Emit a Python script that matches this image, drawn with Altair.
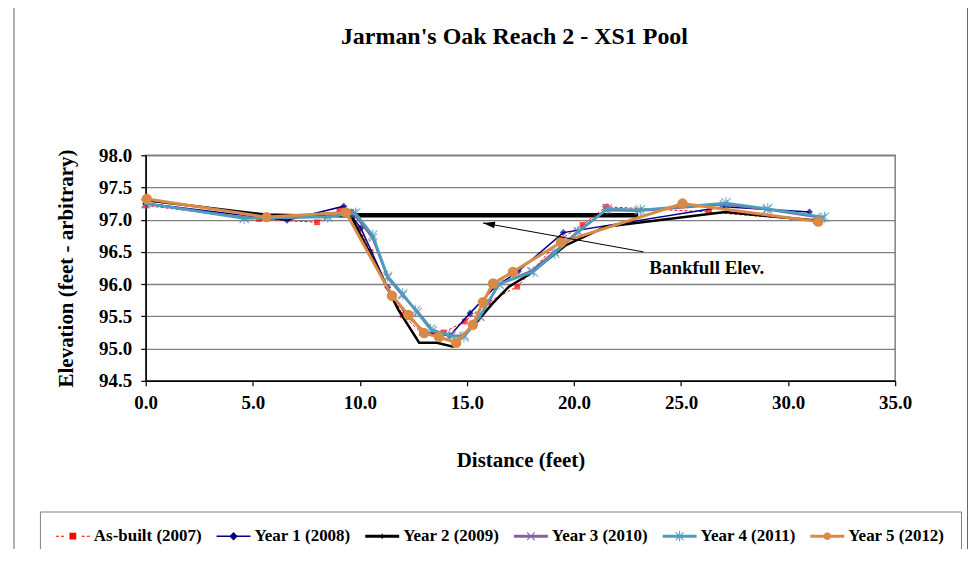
import math
import altair as alt
import pandas as pd

# ---------------- data ----------------
SERIES = ["As-built (2007)", "Year 1 (2008)", "Year 2 (2009)",
          "Year 3 (2010)", "Year 4 (2011)", "Year 5 (2012)"]
COLORS = ["#FF0000", "#000080", "#000000", "#8064A2", "#4A9FC0", "#DA8A47"]

asbuilt_x = [0.0, 5.3, 8.0, 9.05, 9.6, 10.5, 12.0, 12.9, 13.9, 14.9, 16.0, 17.35, 19.4, 20.4, 21.5, 26.3, 31.3]
asbuilt_y = [97.22, 97.01, 96.96, 97.15, 97.12, 96.50, 95.52, 95.24, 95.25, 95.42, 95.72, 95.96, 96.70, 96.92, 97.20, 97.12, 96.98]

year1_x = [0.0, 6.6, 9.25, 10.05, 11.3, 12.2, 13.1, 14.2, 15.15, 16.3, 17.4, 19.5, 27.0, 31.0]
year1_y = [97.25, 96.99, 97.21, 96.87, 95.95, 95.50, 95.25, 95.20, 95.55, 95.95, 96.20, 96.80, 97.20, 97.12]

year2_x = [0.0, 5.6, 9.6, 11.8, 12.77, 13.6, 14.35, 15.4, 16.2, 16.96, 17.9, 19.6, 21.47, 27.06, 31.2]
year2_y = [97.30, 97.08, 97.05, 95.60, 95.09, 95.09, 95.03, 95.39, 95.70, 95.96, 96.15, 96.60, 96.89, 97.12, 96.99]

year3_x = [0.0, 4.6, 8.5, 9.7, 10.6, 11.3, 12.0, 12.7, 13.4, 14.3, 14.9, 15.6, 16.5, 18.0, 19.1, 20.2, 21.5, 23.0, 27.0, 29.0, 31.6]
year3_y = [97.25, 97.03, 97.05, 97.10, 96.72, 96.10, 95.83, 95.57, 95.28, 95.20, 95.20, 95.50, 96.00, 96.20, 96.50, 96.82, 97.15, 97.14, 97.24, 97.16, 97.03]

year4_x = [0.0, 4.6, 8.5, 9.8, 10.6, 11.3, 12.0, 12.6, 13.3, 14.2, 14.86, 15.6, 16.5, 18.1, 19.1, 20.2, 21.55, 23.1, 27.1, 29.05, 31.7]
year4_y = [97.25, 97.02, 97.04, 97.10, 96.76, 96.12, 95.85, 95.59, 95.30, 95.20, 95.18, 95.50, 96.00, 96.19, 96.48, 96.81, 97.17, 97.15, 97.26, 97.17, 97.04]

year5_x = [0.05, 5.65, 9.35, 11.5, 12.27, 13.0, 13.7, 14.5, 15.28, 15.75, 16.22, 17.15, 19.4, 25.07, 31.41]
year5_y = [97.32, 97.04, 97.11, 95.82, 95.52, 95.24, 95.18, 95.09, 95.37, 95.72, 96.01, 96.19, 96.65, 97.25, 96.97]

bankfull_x = [9.5, 23.0]
bankfull_elev = [97.07]
arrow_x = [23.25, 15.75]
arrow_y = [96.50, 96.95]
label_pos = [26.2, 96.16]
label_text = "Bankfull Elev."
title_text = "Jarman's Oak Reach 2 - XS1 Pool"

x_ticks = [0, 5, 10, 15, 20, 25, 30, 35]
y_ticks = [94.5, 95.0, 95.5, 96.0, 96.5, 97.0, 97.5, 98.0]

# ---------------- layout ----------------
W, H = 751, 226
FONT = "Liberation Serif"
XDOM = [0, 35]
YDOM = [94.5, 98.0]

rows = []
for name, xs, ys in zip(SERIES,
                        [asbuilt_x, year1_x, year2_x, year3_x, year4_x, year5_x],
                        [asbuilt_y, year1_y, year2_y, year3_y, year4_y, year5_y]):
    for i, (xv, yv) in enumerate(zip(xs, ys)):
        rows.append({"series": name, "idx": i, "x": xv, "elev": yv})
df = pd.DataFrame(rows)

x_axis = alt.Axis(values=x_ticks, format=".1f", grid=False, tickSize=5, labelPadding=8,
                  labelFlush=False, title="Distance (feet)", titlePadding=37)
y_axis = alt.Axis(values=y_ticks, format=".1f", grid=True, tickSize=5, labelPadding=9,
                  labelFlush=False, title="Elevation (feet - arbitrary)", titlePadding=22)


def X(field):
    return alt.X(f"{field}:Q", scale=alt.Scale(domain=XDOM, nice=False, zero=False), axis=x_axis)


def Y(field):
    return alt.Y(f"{field}:Q", scale=alt.Scale(domain=YDOM, nice=False, zero=False), axis=y_axis)


# ---- symbol paths ----
def poly(pts):
    n = len(pts)
    a = sum(pts[i][0] * pts[(i + 1) % n][1] - pts[(i + 1) % n][0] * pts[i][1] for i in range(n))
    if a < 0:
        pts = pts[::-1]
    return "M" + "L".join(f"{px:.3f},{py:.3f}" for px, py in pts) + "Z"


def rect(x0, x1, h):
    return poly([(x0, -h), (x1, -h), (x1, h), (x0, h)])


def seg(x0, y0, x1, y1, w):
    dx, dy = x1 - x0, y1 - y0
    L = math.hypot(dx, dy)
    nx, ny = -dy / L * w, dx / L * w
    return poly([(x0 + nx, y0 + ny), (x1 + nx, y1 + ny), (x1 - nx, y1 - ny), (x0 - nx, y0 - ny)])


def circ(r, cx=0.0):
    return poly([(cx + r * math.cos(2 * math.pi * k / 20), r * math.sin(2 * math.pi * k / 20)) for k in range(20)])


# legend symbols: unit = 8.5 px; path spans x in [-1, 3] (34 px), marker centred at x=1
C = 1.0
legend_paths = [
    rect(-1, -0.64, 0.06) + rect(-0.40, -0.04, 0.06) + rect(2.04, 2.40, 0.06) + rect(2.64, 3.0, 0.06)
    + rect(C - 0.4, C + 0.4, 0.4),
    rect(-1, 3, 0.09) + poly([(C, -0.5), (C + 0.5, 0), (C, 0.5), (C - 0.5, 0)]),
    rect(-1, 3, 0.17) + poly([(C - 0.07, -0.3), (C + 0.07, -0.3), (C + 0.07, 0.3), (C - 0.07, 0.3)]),
    rect(-1, 3, 0.17) + seg(C - 0.45, -0.45, C + 0.45, 0.45, 0.06) + seg(C - 0.45, 0.45, C + 0.45, -0.45, 0.06),
    rect(-1, 3, 0.17) + seg(C - 0.45, -0.45, C + 0.45, 0.45, 0.06) + seg(C - 0.45, 0.45, C + 0.45, -0.45, 0.06)
    + seg(C, -0.6, C, 0.6, 0.06),
    rect(-1, 3, 0.17) + circ(0.45, C),
]

X_SHAPE = "M-1,-1L1,1M-1,1L1,-1"
STAR_SHAPE = "M-1,-1L1,1M-1,1L1,-1M0,-1.2L0,1.2"
ARROW_SHAPE = "M0,0L2,-0.55L2,0.55Z"

LINE_STYLE = [
    dict(strokeWidth=1, strokeDash=[3, 2]),
    dict(strokeWidth=1.5),
    dict(strokeWidth=2.5),
    dict(strokeWidth=2.5),
    dict(strokeWidth=2.5),
    dict(strokeWidth=3),
]
POINT_STYLE = [
    dict(shape="square", filled=True, size=34),
    dict(shape="diamond", filled=True, size=50),
    None,
    dict(shape=X_SHAPE, filled=False, size=64, strokeWidth=1.2),
    dict(shape=STAR_SHAPE, filled=False, size=90, strokeWidth=1.2),
    dict(shape="circle", filled=True, size=110, opacity=1),
]

layers = []

# bankfull line
bank_df = pd.DataFrame({"x0": [bankfull_x[0]], "x1": [bankfull_x[1]], "elev": bankfull_elev})
layers.append(alt.Chart(bank_df).mark_rule(color="black", strokeWidth=4.5).encode(
    x=X("x0"), x2="x1:Q", y=Y("elev")))

for i, name in enumerate(SERIES):
    sub = alt.Chart(df).transform_filter(alt.datum.series == name)
    layers.append(sub.mark_line(color=COLORS[i], **LINE_STYLE[i]).encode(
        x=X("x"), y=Y("elev"), order="idx:Q"))
    if POINT_STYLE[i] is not None:
        layers.append(sub.mark_point(color=COLORS[i], **POINT_STYLE[i]).encode(x=X("x"), y=Y("elev")))

# arrow
arrow_df = pd.DataFrame({"x0": [arrow_x[0]], "y0": [arrow_y[0]], "x1": [arrow_x[1]], "y1": [arrow_y[1]]})
layers.append(alt.Chart(arrow_df).mark_rule(color="black", strokeWidth=1).encode(
    x=X("x0"), y=Y("y0"), x2="x1:Q", y2="y1:Q"))
dxp = (arrow_x[1] - arrow_x[0]) * W / (XDOM[1] - XDOM[0])
dyp = -(arrow_y[1] - arrow_y[0]) * H / (YDOM[1] - YDOM[0])
ang = math.degrees(math.atan2(-dyp, -dxp))
ang = ang % 360
layers.append(alt.Chart(arrow_df).mark_point(shape=ARROW_SHAPE, filled=True, color="black",
                                             size=144, angle=ang, opacity=1).encode(
    x=X("x1"), y=Y("y1")))

# annotation text
lab_df = pd.DataFrame({"x": [label_pos[0]], "y": [label_pos[1]], "t": [label_text]})
layers.append(alt.Chart(lab_df).mark_text(font=FONT, fontSize=19, fontWeight="bold", color="black",
                                          align="center", baseline="alphabetic").encode(
    x=X("x"), y=Y("y"), text="t:N"))

# chart title (placed above the plot area)
one = pd.DataFrame({"t": [title_text]})
layers.append(alt.Chart(one).mark_text(font=FONT, fontSize=24, fontWeight="bold", color="black",
                                       align="center", baseline="alphabetic").encode(
    x=alt.value(369.5), y=alt.value(-111), text="t:N"))

# outer frame lines of the chart area
layers.append(alt.Chart(one).mark_rule(color="#666666", strokeWidth=1).encode(
    x=alt.value(-132), y=alt.value(-160), y2=alt.value(420)))
layers.append(alt.Chart(one).mark_rule(color="#666666", strokeWidth=1).encode(
    x=alt.value(823.5), y=alt.value(-160), y2=alt.value(420)))

# legend (drawn from the colour/shape scales only)
legend = alt.Legend(title=None, orient="none", legendX=-106, legendY=357, direction="horizontal",
                    columns=6, symbolSize=289, labelFont=FONT, labelFontSize=17, labelFontWeight="bold",
                    labelColor="black", labelOffset=21, columnPadding=14, padding=16,
                    strokeColor="#808080", fillColor="white", symbolStrokeWidth=0, symbolOpacity=1,
                    labelLimit=300)
ser_df = pd.DataFrame({"series": SERIES})
layers.append(alt.Chart(ser_df).mark_point(filled=True).encode(
    color=alt.Color("series:N", scale=alt.Scale(domain=SERIES, range=COLORS), legend=legend),
    shape=alt.Shape("series:N", scale=alt.Scale(domain=SERIES, range=legend_paths), legend=legend),
).transform_filter("false"))

chart = alt.layer(*layers).properties(
    width=W, height=H,
    background="white",
    padding={"left": 138, "top": 147, "right": 74, "bottom": 168},
    autosize=alt.AutoSizeParams(type="none"),
).configure_view(stroke="#808080", strokeWidth=1.5).configure_axis(
    labelFont=FONT, labelFontSize=19, labelFontWeight="bold", labelColor="black",
    titleFont=FONT, titleFontSize=21, titleFontWeight="bold", titleColor="black",
    domainColor="black", domainWidth=1.5, tickColor="black", tickWidth=1.2,
    gridColor="#808080", gridWidth=1.3, gridOpacity=1,
)

chart.save("out.html", embed_options={"renderer": "svg", "actions": False})
